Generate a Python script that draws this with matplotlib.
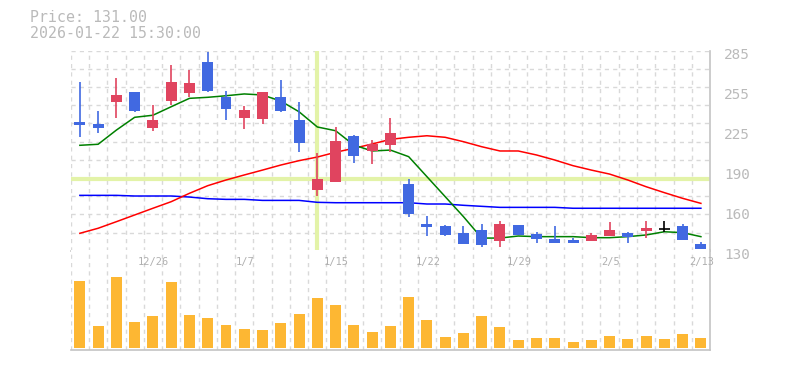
import numpy as np
import matplotlib.pyplot as plt
from matplotlib.transforms import blended_transform_factory, ScaledTranslation

# ================= DATA =================
opens = [229.5, 228.2, 245.5, 253.0, 225.3, 246.3, 252.5, 276.3, 249.4, 233.0,
         232.0, 249.0, 231.3, 177.0, 183.5, 218.9, 207.3, 212.2, 181.7, 150.7,
         149.1, 144.0, 146.0, 137.8, 149.9, 142.9, 139.1, 138.3, 137.8, 141.6,
         144.0, 145.5, 147.0, 149.1, 135.2]
closes = [227.5, 225.3, 250.7, 238.5, 231.3, 260.8, 260.0, 253.8, 239.8, 239.0,
          253.0, 238.3, 213.7, 185.6, 215.0, 203.6, 213.0, 221.2, 158.7, 148.6,
          142.4, 135.4, 134.4, 150.7, 142.4, 139.3, 136.2, 136.2, 142.2, 146.0,
          140.4, 147.8, 147.0, 138.3, 131.0]
highs = [260.5, 238.3, 264.0, 253.0, 243.0, 274.0, 270.0, 284.0, 253.8, 242.4,
         253.0, 262.3, 245.5, 205.5, 225.6, 219.4, 215.8, 232.8, 185.3, 157.1,
         149.9, 149.1, 150.9, 153.0, 149.9, 144.3, 149.1, 139.8, 144.0, 152.2,
         144.7, 153.0, 153.0, 150.7, 136.7]
lows = [218.4, 221.5, 233.0, 237.7, 223.0, 243.0, 249.4, 253.2, 231.3, 224.3,
        228.4, 237.7, 206.7, 172.6, 183.5, 198.2, 197.4, 206.7, 155.9, 141.6,
        141.6, 135.4, 133.1, 133.1, 142.4, 136.2, 135.7, 135.7, 137.8, 141.6,
        136.2, 140.1, 144.3, 138.3, 131.0]
volume = [67, 22, 71, 26, 32, 66, 33, 30, 23, 19, 18, 25, 34, 50, 43, 23, 16, 22,
          51, 28, 11, 15, 32, 21, 8, 10, 10, 6, 8, 12, 9, 12, 9, 14, 10]
volume = [v * 1000 for v in volume]

ma_short = [211.7, 212.5, 223.5, 233.4, 235.0, 241.6, 248.1, 248.9, 250.1, 251.5,
            250.7, 246.0, 237.7, 225.9, 223.0, 211.9, 207.3, 208.0, 202.9, 187.4,
            171.9, 156.4, 139.8, 139.8, 141.4, 140.9, 140.9, 140.9, 140.1, 140.1,
            140.9, 142.2, 144.7, 144.0, 140.9]
ma_mid = [143.5, 147.4, 152.5, 157.7, 162.9, 168.0, 174.5, 180.4, 184.8, 188.7,
          192.5, 196.4, 199.8, 202.6, 206.3, 209.4, 212.7, 216.3, 217.9, 219.1,
          217.9, 214.5, 210.6, 207.3, 207.3, 204.2, 200.3, 195.9, 192.5, 189.4,
          184.8, 179.6, 175.0, 170.6, 166.7]
ma_long = [172.9, 172.9, 172.9, 172.4, 172.4, 172.4, 171.6, 170.3, 169.8, 169.8,
           169.0, 169.0, 169.0, 167.5, 167.2, 167.2, 167.2, 167.2, 167.2, 166.2,
           166.2, 165.2, 164.4, 163.6, 163.6, 163.6, 163.6, 162.9, 162.9, 162.9,
           162.9, 162.9, 162.9, 162.9, 162.9]

date_idx = [4, 9, 14, 19, 24, 29, 34]
date_labels = ["12/26", "1/7", "1/15", "1/22", "1/29", "2/5", "2/13"]

ytick_vals = [130, 161, 192, 223, 254, 285]
ytick_labels = ["130", "160", "190", "225", "255", "285"]

cross_idx = 13
cross_price = 185.3
header_price = "Price: 131.00"
header_time = "2026-01-22 15:30:00"

# ================= STYLE =================
UP = '#e0445f'
DOWN = '#4169e1'
VOLC = '#fdb733'
GRID = '#d9d9d9'
AXC = '#c4c4c4'
TXT = '#bababa'
CROSS = '#e3f3a8'
MONO = 'DejaVu Sans Mono'

n = len(opens)
x = np.arange(n)

fig = plt.figure(figsize=(7.85, 3.70), dpi=100)
ax = fig.add_axes([0.0901, 0.3224, 0.8144, 0.5405])
axv = fig.add_axes([0.0901, 0.0532, 0.8144, 0.2703])

for a in (ax, axv):
    a.set_xlim(-0.5, n - 0.5)
    for s in ('top', 'left'):
        a.spines[s].set_visible(False)
    for s in ('bottom', 'right'):
        a.spines[s].set_color(AXC)
        a.spines[s].set_linewidth(1.2)
    a.set_xticks([])
    for k in range(n):
        a.axvline(k - 0.5, color=GRID, lw=1, ls=(0, (3, 3)), zorder=0)

# ================= PRICE PANEL =================
ax.set_ylim(130, 285)
for yv in np.linspace(130, 285, 12)[1:]:
    ax.axhline(yv, color=GRID, lw=1, ls=(0, (3, 3)), zorder=0)

# crosshair
ax.axhline(cross_price, color=CROSS, lw=3, zorder=0.5)
ax.axvline(cross_idx, ymin=0.013, ymax=0.995, color=CROSS, lw=3, zorder=0.5)

# moving averages
ax.plot(x, ma_long, color='#0000ff', lw=1.1, zorder=2)
ax.plot(x, ma_mid, color='#ff0000', lw=1.1, zorder=2)
ax.plot(x, ma_short, color='#008000', lw=1.1, zorder=2)

# candles
for i in range(n):
    o, c = opens[i], closes[i]
    if c > o:
        col = UP
    elif c < o:
        col = DOWN
    else:
        col = 'black'
    ax.vlines(i, lows[i], highs[i], color=col, lw=1.2, zorder=3)
    if col == 'black':
        ax.hlines(o, i - 0.3, i + 0.3, color=col, lw=1.2, zorder=3)
    else:
        ax.bar(i, abs(c - o), bottom=min(o, c), width=0.6, color=col, zorder=3)

ax.yaxis.tick_right()
ax.set_yticks(ytick_vals)
ax.set_yticklabels(ytick_labels, family=MONO, fontsize=10.4, color=TXT)
ax.tick_params(axis='y', length=0, pad=10)
shift = ScaledTranslation(0, -2.5 / 100, fig.dpi_scale_trans)
for t in ax.yaxis.get_major_ticks():
    t.label2.set_transform(t.label2.get_transform() + shift)

# ================= VOLUME PANEL =================
axv.bar(x, volume, width=0.6, color=VOLC, zorder=2)
axv.set_ylim(-2300, 97700)
axv.set_yticks([])

tr = blended_transform_factory(axv.transData, axv.transAxes)
for i, lab in zip(date_idx, date_labels):
    axv.text(i + 0.05, 0.886, lab, transform=tr, ha='center', va='center',
             family=MONO, fontsize=7.5, color='#b0b0b0')

# ================= HEADER =================
fig.text(30 / 785, 1 - 18 / 370, header_price, family=MONO, fontsize=10.7,
         color=TXT, va='center', ha='left')
fig.text(30 / 785, 1 - 33 / 370, header_time, family=MONO, fontsize=10.7,
         color=TXT, va='center', ha='left')

fig.savefig('out.png', dpi=100)
